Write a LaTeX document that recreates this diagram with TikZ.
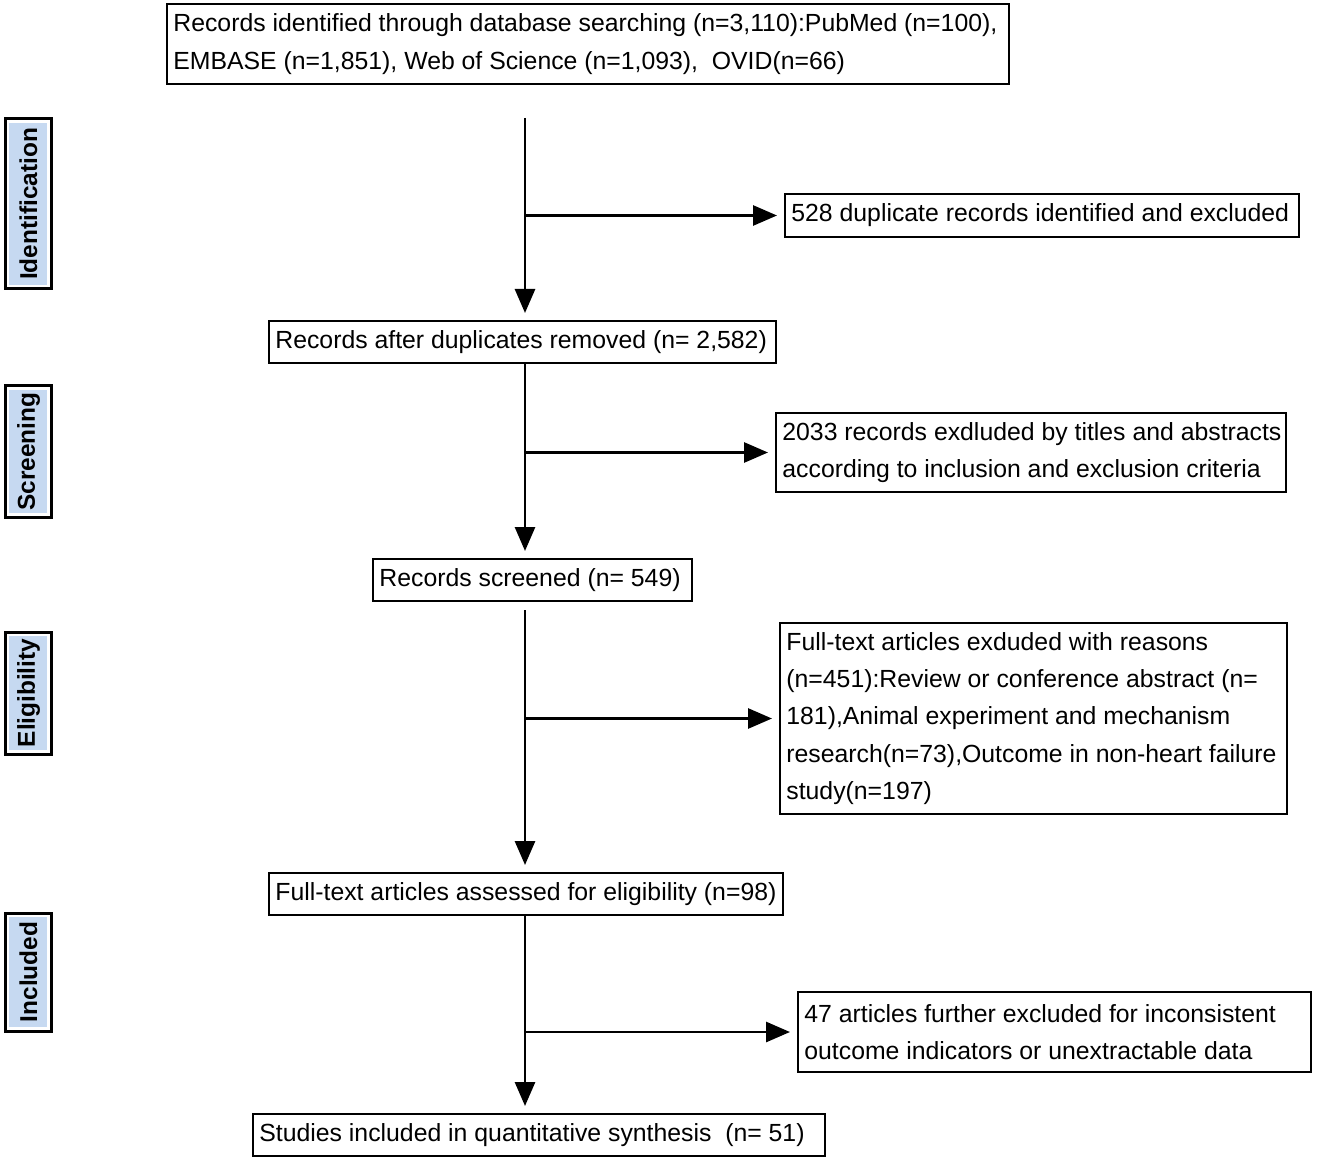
\documentclass[tikz,border=0pt]{standalone}
\usepackage{fontspec}
\setmainfont{Liberation Sans}
\usetikzlibrary{arrows.meta}
\definecolor{sidefill}{HTML}{C6D9F1}
\tikzset{
  boxstyle/.style={draw=black, line width=1pt, fill=white, inner sep=0pt, anchor=north west},
  boxtext/.style={anchor=west, align=left, inner xsep=3.5pt, inner ysep=0pt,
    font=\fontsize{12.4}{18.7}\selectfont},
  conn/.style={line width=1.4pt, -{Triangle[length=12pt,width=10pt]}, shorten >=3.5pt},
  sidetext/.style={font=\fontsize{12.2}{14}\selectfont\bfseries, rotate=90, inner sep=0pt}
}
\newcommand{\pbox}[6]{% name, x1, y1, x2, y2, text
  \node[boxstyle, minimum width={(#4-#2)*0.5pt}, minimum height={(#5-#3)*0.5pt},
        label={[boxtext]west:{#6}}] (#1) at (#2,#3) {};}
\begin{document}
\begin{tikzpicture}[x=0.5pt, y=-0.5pt]
\useasboundingbox (0,0) rectangle (1325,1165);
% side labels
\foreach \nm/\ya/\yb/\txt in {side1/119/289/Identification, side2/386/517/Screening, side3/632/754/Eligibility, side4/913/1031/Included}{
  \draw[line width=1.5pt] (5,\ya) rectangle (51,\yb);
  \fill[sidefill] (9,\ya+4) rectangle (47,\yb-4);
  \node[sidetext] (\nm) at (28.5,{(\ya+\yb)/2}) {\txt};
}
% main boxes
\pbox{b1}{166}{3}{1008}{83}{Records identified through database searching (n=3,110):PubMed (n=100),\\EMBASE (n=1,851), Web of Science (n=1,093),\ \ OVID(n=66)}
\pbox{b2}{268}{320}{775}{362}{Records after duplicates removed (n= 2,582)}
\pbox{b3}{372}{558}{691}{600}{Records screened (n= 549)}
\pbox{b4}{268}{872}{782}{914}{Full-text articles assessed for eligibility (n=98)}
\pbox{b5}{252}{1113}{824}{1155}{Studies included in quantitative synthesis\ \ (n= 51)}
% exclusion boxes
\pbox{e1}{784}{193}{1298}{236}{528 duplicate records identified and excluded}
\pbox{e2}{775}{412}{1285}{491}{2033 records exdluded by titles and abstracts\\according to inclusion and exclusion criteria}
\pbox{e3}{779}{622}{1286}{813}{Full-text articles exduded with reasons\\(n=451):Review or conference abstract (n=\\181),Animal experiment and mechanism\\research(n=73),Outcome in non-heart failure\\study(n=197)}
\pbox{e4}{797}{991}{1310}{1071}{47 articles further excluded for inconsistent\\outcome indicators or unextractable data}
% connectors
\coordinate (s1) at (525,118);
\coordinate (s3) at (525,610);
\draw[conn] (s1) -- (s1 |- b2.north);
\draw[conn] (s1 |- b2.south) -- (s1 |- b3.north);
\draw[conn] (s3) -- (s3 |- b4.north);
\draw[conn] (s1 |- b4.south) -- (s1 |- b5.north);
\draw[conn] (s1 |- e1.west) -- (e1.west);
\draw[conn] (s1 |- e2.west) -- (e2.west);
\draw[conn] (s1 |- e3.west) -- (e3.west);
\draw[conn] (s1 |- e4.west) -- (e4.west);
\end{tikzpicture}
\end{document}
